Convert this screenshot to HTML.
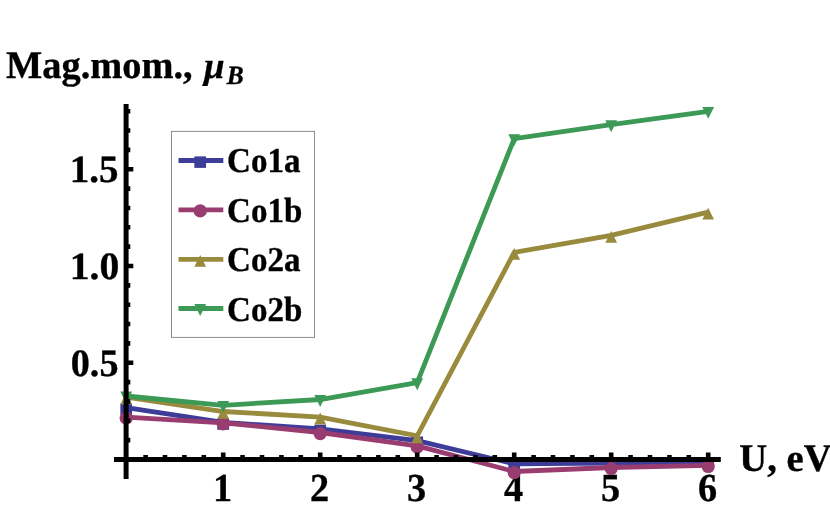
<!DOCTYPE html>
<html><head><meta charset="utf-8"><title>Mag.mom. vs U</title>
<style>html,body{margin:0;padding:0;background:#fff;}body{width:830px;height:516px;overflow:hidden;position:relative;}svg{display:block;position:absolute;left:0;top:0;}text{font-family:"Liberation Serif",serif;font-weight:bold;fill:#000;stroke:#000;stroke-width:0.35px;stroke-linejoin:round;text-rendering:geometricPrecision;filter:grayscale(1);}</style>
</head><body>
<svg width="830" height="516" viewBox="0 0 830 516">
<rect width="830" height="516" fill="#fff"/>
<text class="t" transform="translate(222.50,501.40) scale(1,1.035)" font-size="38.3" text-anchor="middle">1</text>
<text class="t" transform="translate(319.50,501.40) scale(1,1.035)" font-size="38.3" text-anchor="middle">2</text>
<text class="t" transform="translate(416.50,501.40) scale(1,1.035)" font-size="38.3" text-anchor="middle">3</text>
<text class="t" transform="translate(513.50,501.40) scale(1,1.035)" font-size="38.3" text-anchor="middle">4</text>
<text class="t" transform="translate(610.50,501.40) scale(1,1.035)" font-size="38.3" text-anchor="middle">5</text>
<text class="t" transform="translate(707.50,501.40) scale(1,1.035)" font-size="38.3" text-anchor="middle">6</text>
<text class="t" transform="translate(118.50,375.85) scale(0.965,0.98)" font-size="39.6" text-anchor="end">0.5</text>
<text class="t" transform="translate(119.30,279.10) scale(1.0,0.98)" font-size="39.6" text-anchor="end">1.0</text>
<text class="t" transform="translate(118.60,182.35) scale(0.985,0.98)" font-size="39.6" text-anchor="end">1.5</text>
<polyline points="126.20,407.70 223.20,422.40 320.20,428.80 417.20,440.60 514.20,463.90 611.20,463.00 708.20,461.50" fill="none" stroke="#3D3D99" stroke-width="4.8" stroke-linejoin="miter" stroke-miterlimit="4"/>
<rect x="120.35" y="403.60" width="11.7" height="11.5" fill="#3D3D99"/>
<rect x="217.35" y="418.30" width="11.7" height="11.5" fill="#3D3D99"/>
<rect x="314.35" y="424.70" width="11.7" height="11.5" fill="#3D3D99"/>
<rect x="411.35" y="436.50" width="11.7" height="11.5" fill="#3D3D99"/>
<rect x="508.35" y="459.80" width="11.7" height="11.5" fill="#3D3D99"/>
<rect x="605.35" y="458.90" width="11.7" height="11.5" fill="#3D3D99"/>
<rect x="702.35" y="457.40" width="11.7" height="11.5" fill="#3D3D99"/>
<polyline points="126.20,417.10 223.20,422.80 320.20,432.50 417.20,445.90 514.20,471.50 611.20,467.50 708.20,465.40" fill="none" stroke="#993D71" stroke-width="4.8" stroke-linejoin="miter" stroke-miterlimit="4"/>
<circle cx="126.20" cy="418.20" r="6.6" fill="#993D71"/>
<circle cx="223.20" cy="423.90" r="6.6" fill="#993D71"/>
<circle cx="320.20" cy="433.60" r="6.6" fill="#993D71"/>
<circle cx="417.20" cy="447.00" r="6.6" fill="#993D71"/>
<circle cx="514.20" cy="472.60" r="6.6" fill="#993D71"/>
<circle cx="611.20" cy="468.60" r="6.6" fill="#993D71"/>
<circle cx="708.20" cy="466.50" r="6.6" fill="#993D71"/>
<polyline points="126.20,397.10 223.20,411.50 320.20,417.10 417.20,435.90 514.20,252.40 611.20,235.40 708.20,212.20" fill="none" stroke="#998B3D" stroke-width="4.8" stroke-linejoin="miter" stroke-miterlimit="4"/>
<polygon points="126.20,392.60 132.10,404.40 120.30,404.40" fill="#998B3D"/>
<polygon points="223.20,407.00 229.10,418.80 217.30,418.80" fill="#998B3D"/>
<polygon points="320.20,412.60 326.10,424.40 314.30,424.40" fill="#998B3D"/>
<polygon points="417.20,431.40 423.10,443.20 411.30,443.20" fill="#998B3D"/>
<polygon points="514.20,247.90 520.10,259.70 508.30,259.70" fill="#998B3D"/>
<polygon points="611.20,230.90 617.10,242.70 605.30,242.70" fill="#998B3D"/>
<polygon points="708.20,207.70 714.10,219.50 702.30,219.50" fill="#998B3D"/>
<polyline points="126.20,396.00 223.20,405.30 320.20,399.50 417.20,382.70 514.20,138.60 611.20,124.70 708.20,111.30" fill="none" stroke="#3D9956" stroke-width="4.8" stroke-linejoin="miter" stroke-miterlimit="4"/>
<polygon points="120.30,391.60 132.10,391.60 126.20,403.50" fill="#3D9956"/>
<polygon points="217.30,400.90 229.10,400.90 223.20,412.80" fill="#3D9956"/>
<polygon points="314.30,395.10 326.10,395.10 320.20,407.00" fill="#3D9956"/>
<polygon points="411.30,378.30 423.10,378.30 417.20,390.20" fill="#3D9956"/>
<polygon points="508.30,134.20 520.10,134.20 514.20,146.10" fill="#3D9956"/>
<polygon points="605.30,120.30 617.10,120.30 611.20,132.20" fill="#3D9956"/>
<polygon points="702.30,106.90 714.10,106.90 708.20,118.80" fill="#3D9956"/>
<g stroke="#000" stroke-width="4.8" fill="none">
<line x1="126.10000000000001" y1="104" x2="126.10000000000001" y2="479" stroke-width="5"/>
<line x1="114" y1="459.5" x2="720.8" y2="459.5"/>
</g>
<path d="M145.60,459.5 V455 M165.00,459.5 V455 M184.40,459.5 V455 M203.80,459.5 V455 M223.20,459.5 V452.6 M242.60,459.5 V455 M262.00,459.5 V455 M281.40,459.5 V455 M300.80,459.5 V455 M320.20,459.5 V452.6 M339.60,459.5 V455 M359.00,459.5 V455 M378.40,459.5 V455 M397.80,459.5 V455 M417.20,459.5 V452.6 M436.60,459.5 V455 M456.00,459.5 V455 M475.40,459.5 V455 M494.80,459.5 V455 M514.20,459.5 V452.6 M533.60,459.5 V455 M553.00,459.5 V455 M572.40,459.5 V455 M591.80,459.5 V455 M611.20,459.5 V452.6 M630.60,459.5 V455 M650.00,459.5 V455 M669.40,459.5 V455 M688.80,459.5 V455 M708.20,459.5 V452.6 M126.2,440.15 H130.3 M126.2,420.80 H130.3 M126.2,401.45 H130.3 M126.2,382.10 H130.3 M126.2,362.75 H133.3 M126.2,343.40 H130.3 M126.2,324.05 H130.3 M126.2,304.70 H130.3 M126.2,285.35 H130.3 M126.2,266.00 H133.3 M126.2,246.65 H130.3 M126.2,227.30 H130.3 M126.2,207.95 H130.3 M126.2,188.60 H130.3 M126.2,169.25 H133.3 M126.2,149.90 H130.3 M126.2,130.55 H130.3 M126.2,111.20 H130.3" stroke="#000" stroke-width="4.6" fill="none"/>
<text class="t" transform="translate(739.30,470.95) scale(1,1.01)" font-size="38.65" text-anchor="start">U, eV</text>
<text class="t" transform="translate(6.10,77.75) scale(1,1.016)" font-size="38.4" text-anchor="start">Mag.mom.,</text>
<text transform="translate(203.9,78.0) scale(0.975,0.98)" font-size="38" font-style="italic">μ</text>
<text transform="translate(226.8,84.3) scale(0.977,1.017)" font-size="26" font-style="italic">B</text>
<rect x="171.5" y="131.4" width="143" height="206" fill="#fff" stroke="#8c8c8c" stroke-width="1"/>
<line x1="178.5" y1="160.5" x2="223.3" y2="160.5" stroke="#3D3D99" stroke-width="4.8"/>
<rect x="194.35" y="156.40" width="11.7" height="11.5" fill="#3D3D99"/>
<text class="t" transform="translate(227.10,172.10) scale(1,1.058)" font-size="33.0" text-anchor="start">Co1a</text>
<line x1="178.5" y1="209.8" x2="223.3" y2="209.8" stroke="#993D71" stroke-width="4.8"/>
<circle cx="200.20" cy="210.90" r="6.6" fill="#993D71"/>
<text class="t" transform="translate(227.10,221.60) scale(1,1.058)" font-size="33.0" text-anchor="start">Co1b</text>
<line x1="178.5" y1="259.4" x2="223.3" y2="259.4" stroke="#998B3D" stroke-width="4.8"/>
<polygon points="200.20,254.90 206.10,266.70 194.30,266.70" fill="#998B3D"/>
<text class="t" transform="translate(227.10,271.10) scale(1,1.058)" font-size="33.0" text-anchor="start">Co2a</text>
<line x1="178.5" y1="308.5" x2="223.3" y2="308.5" stroke="#3D9956" stroke-width="4.8"/>
<polygon points="194.30,304.10 206.10,304.10 200.20,316.00" fill="#3D9956"/>
<text class="t" transform="translate(227.10,320.70) scale(1,1.058)" font-size="33.0" text-anchor="start">Co2b</text>
</svg></body></html>
